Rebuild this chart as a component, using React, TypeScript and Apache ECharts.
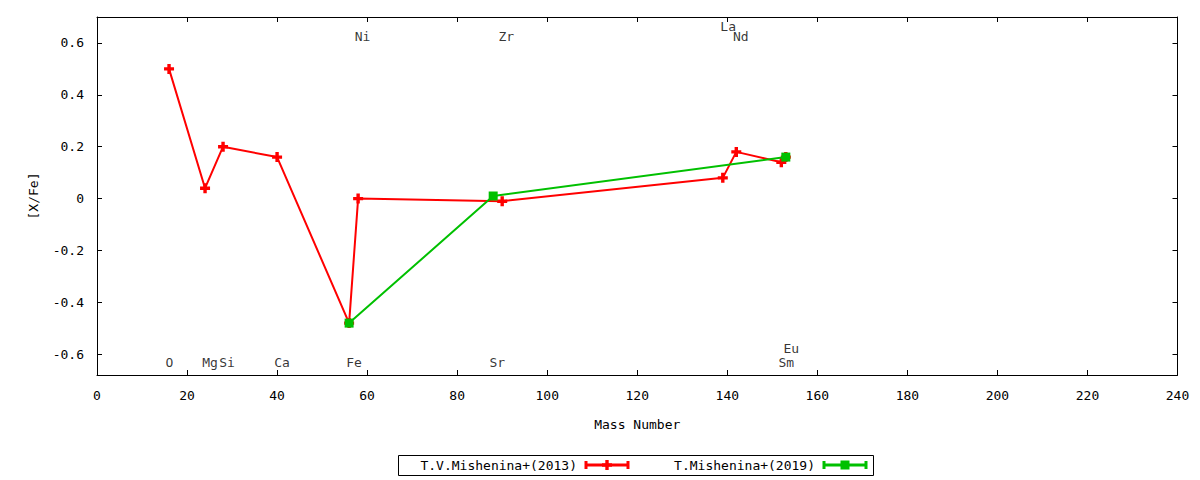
import React, { useEffect, useRef } from "react";
import * as echarts from "echarts";

// ---- data ----
const series2013Name = "T.V.Mishenina+(2013)";
const series2019Name = "T.Mishenina+(2019)";
// [mass number, [X/Fe]]
const mishenina2013: [number, number][] = [
  [16, 0.5],
  [24, 0.04],
  [28, 0.2],
  [40, 0.16],
  [56, -0.48],
  [58, 0.0],
  [90, -0.01],
  [139, 0.08],
  [142, 0.18],
  [152, 0.14],
  [153, 0.16],
];
const mishenina2019: [number, number][] = [
  [56, -0.48],
  [88, 0.01],
  [153, 0.16],
];
// element name labels: [name, x, y] in data coordinates
const elementLabels: [string, number, number][] = [
  ["O", 16.1, -0.633],
  ["Mg", 25.1, -0.633],
  ["Si", 28.9, -0.633],
  ["Ca", 41.1, -0.633],
  ["Fe", 57.1, -0.633],
  ["Sr", 88.9, -0.633],
  ["Sm", 153.1, -0.633],
  ["Eu", 154.2, -0.579],
  ["Ni", 59.0, 0.624],
  ["Zr", 90.9, 0.624],
  ["La", 140.2, 0.663],
  ["Nd", 143.0, 0.624],
];
const yTicks = [-0.6, -0.4, -0.2, 0, 0.2, 0.4, 0.6];
const xMin = 0;
const xMax = 240;
const xInterval = 20;
const yMin = -0.68;
const yMax = 0.7;
const xName = "Mass Number";
const yName = "[X/Fe]";

const FONT = '"DejaVu Sans Mono", "Liberation Mono", monospace';
const RED = "#ff0000";
const GREEN = "#00c000";
const PLUS =
  "path://M3.3,0L6.7,0L6.7,3.3L10,3.3L10,6.7L6.7,6.7L6.7,10L3.3,10L3.3,6.7L0,6.7L0,3.3L3.3,3.3Z";

function fmtY(v: number) {
  if (Math.abs(v) < 1e-9) return "0";
  return v.toFixed(1);
}

export default function App() {
  const ref = useRef<HTMLDivElement>(null);
  useEffect(() => {
    document.body.style.margin = "0";
    if (!ref.current) return;
    const chart = echarts.init(ref.current, undefined, { renderer: "svg" });
    const tickStyle = { inside: true, length: 5, lineStyle: { color: "#000", width: 1 } };
    const axisLine = { show: true, onZero: false, lineStyle: { color: "#000", width: 1 } };
    const legendY = 465;
    const option: any = {
      animation: false,
      backgroundColor: "#fff",
      textStyle: { fontFamily: FONT },
      grid: { left: 97, top: 17, right: 22.5, bottom: 105, containLabel: false },
      xAxis: [
        {
          type: "value",
          position: "bottom",
          min: xMin,
          max: xMax,
          interval: xInterval,
          name: xName,
          nameLocation: "middle",
          nameGap: 43,
          nameTextStyle: { fontFamily: FONT, fontSize: 13, color: "#000", verticalAlign: "top" },
          axisLine,
          axisTick: tickStyle,
          axisLabel: { fontFamily: FONT, fontSize: 13, color: "#000", margin: 14 },
          splitLine: { show: false },
        },
        {
          type: "value",
          position: "top",
          min: xMin,
          max: xMax,
          interval: xInterval,
          axisLine,
          axisTick: tickStyle,
          axisLabel: { show: false },
          splitLine: { show: false },
        },
      ],
      yAxis: [
        {
          type: "value",
          position: "left",
          min: yMin,
          max: yMax,
          name: yName,
          nameLocation: "middle",
          nameGap: 57,
          nameRotate: 90,
          nameTextStyle: { fontFamily: FONT, fontSize: 13, color: "#000" },
          axisLine,
          axisTick: { ...tickStyle, customValues: yTicks },
          axisLabel: {
            fontFamily: FONT,
            fontSize: 13,
            color: "#000",
            margin: 13,
            customValues: yTicks,
            formatter: (v: number) => fmtY(v),
          },
          splitLine: { show: false },
        },
        {
          type: "value",
          position: "right",
          min: yMin,
          max: yMax,
          axisLine,
          axisTick: { ...tickStyle, customValues: yTicks },
          axisLabel: { show: false },
          splitLine: { show: false },
        },
      ],
      series: [
        {
          name: series2013Name,
          type: "line",
          xAxisIndex: 0,
          yAxisIndex: 0,
          data: mishenina2013,
          symbol: PLUS,
          symbolSize: 10,
          showAllSymbol: true,
          lineStyle: { color: RED, width: 2 },
          itemStyle: { color: RED, borderWidth: 0 },
          z: 3,
        },
        {
          name: series2019Name,
          type: "line",
          xAxisIndex: 0,
          yAxisIndex: 0,
          data: mishenina2019,
          symbol: "rect",
          symbolSize: 9,
          showAllSymbol: true,
          lineStyle: { color: GREEN, width: 2 },
          itemStyle: { color: GREEN, borderWidth: 0 },
          z: 4,
        },
        {
          name: "labels",
          type: "scatter",
          xAxisIndex: 0,
          yAxisIndex: 0,
          silent: true,
          symbol: "circle",
          symbolSize: 1,
          itemStyle: { color: "rgba(0,0,0,0)" },
          label: {
            show: true,
            position: "inside",
            formatter: "{b}",
            fontFamily: FONT,
            fontSize: 13,
            color: "#000",
          },
          data: elementLabels.map(([n, x, y]) => ({ name: n, value: [x, y] })),
          z: 5,
        },
      ],
      graphic: [
        {
          type: "rect",
          shape: { x: 398.5, y: 455.5, width: 475, height: 20 },
          style: { fill: "#fff", stroke: "#000", lineWidth: 1 },
        },
        {
          type: "text",
          style: {
            text: series2013Name,
            x: 577,
            y: legendY,
            textAlign: "right",
            textVerticalAlign: "middle",
            font: `13px ${FONT}`,
            fill: "#000",
          },
        },
        { type: "line", shape: { x1: 586, y1: legendY, x2: 628, y2: legendY }, style: { stroke: RED, lineWidth: 3 } },
        { type: "line", shape: { x1: 586, y1: legendY - 4, x2: 586, y2: legendY + 4 }, style: { stroke: RED, lineWidth: 3 } },
        { type: "line", shape: { x1: 628, y1: legendY - 4, x2: 628, y2: legendY + 4 }, style: { stroke: RED, lineWidth: 3 } },
        { type: "rect", shape: { x: 605.3, y: legendY - 5, width: 3.4, height: 10 }, style: { fill: RED } },
        { type: "rect", shape: { x: 602, y: legendY - 1.7, width: 10, height: 3.4 }, style: { fill: RED } },
        {
          type: "text",
          style: {
            text: series2019Name,
            x: 815,
            y: legendY,
            textAlign: "right",
            textVerticalAlign: "middle",
            font: `13px ${FONT}`,
            fill: "#000",
          },
        },
        { type: "line", shape: { x1: 824, y1: legendY, x2: 866, y2: legendY }, style: { stroke: GREEN, lineWidth: 3 } },
        { type: "line", shape: { x1: 824, y1: legendY - 4, x2: 824, y2: legendY + 4 }, style: { stroke: GREEN, lineWidth: 3 } },
        { type: "line", shape: { x1: 866, y1: legendY - 4, x2: 866, y2: legendY + 4 }, style: { stroke: GREEN, lineWidth: 3 } },
        { type: "rect", shape: { x: 840.5, y: legendY - 4.5, width: 9, height: 9 }, style: { fill: GREEN } },
      ],
    };
    chart.setOption(option);
    return () => chart.dispose();
  }, []);
  return <div ref={ref} style={{ width: 1200, height: 480 }} />;
}
